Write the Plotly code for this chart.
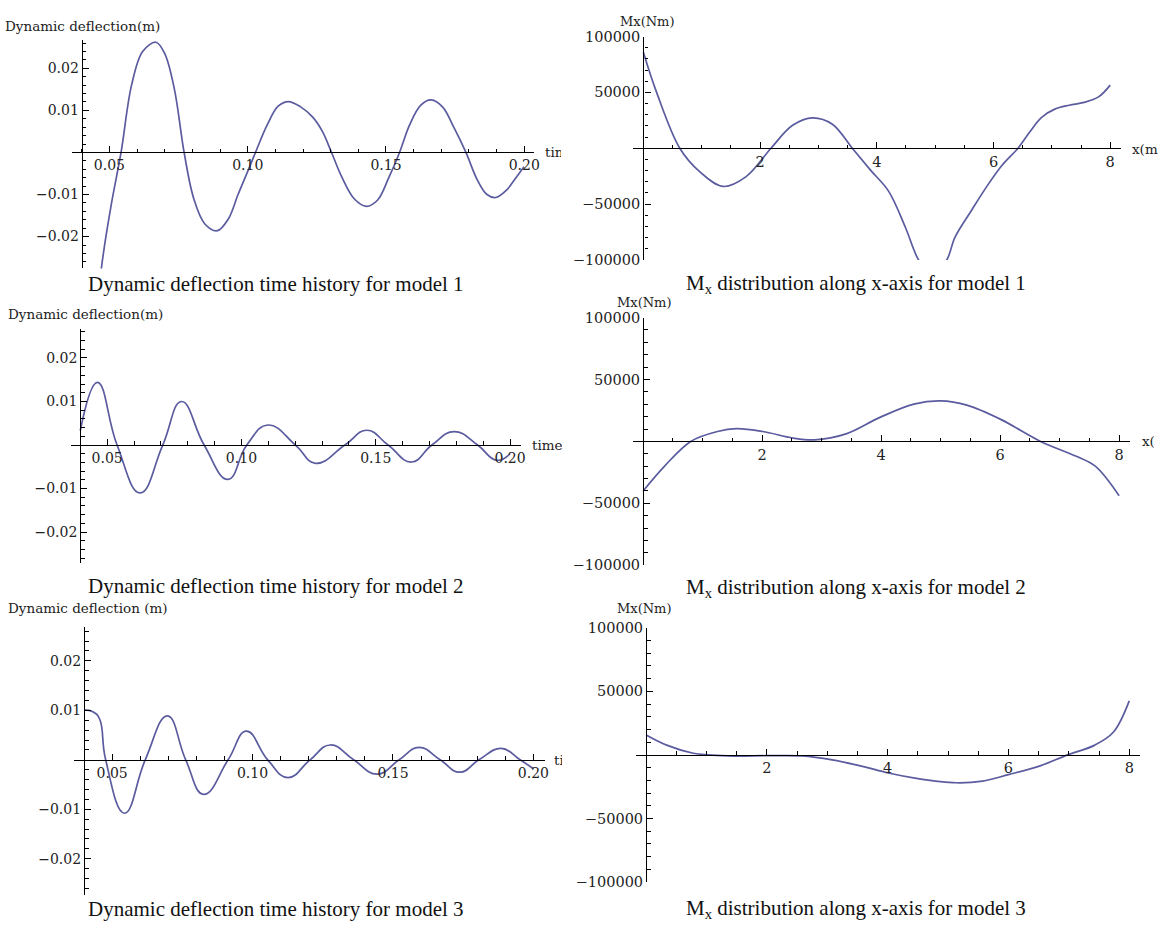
import plotly.graph_objects as go

W, H = 1164, 929

# ---------------- data ----------------
# Dynamic deflection time histories (time in s, deflection in m)
time_model1 = [0.0440, 0.0471, 0.0505, 0.0542, 0.0580, 0.0620, 0.0668, 0.0700, 0.0735, 0.0770,
               0.0805, 0.0845, 0.0890, 0.0930, 0.0965, 0.1000, 0.1028, 0.1070, 0.1110, 0.1147,
               0.1190, 0.1235, 0.1270, 0.1303, 0.1340, 0.1385, 0.1429, 0.1470, 0.1510, 0.1549,
               0.1585, 0.1625, 0.1663, 0.1705, 0.1745, 0.1789, 0.1830, 0.1865, 0.1897, 0.1935,
               0.1970, 0.1999]
defl_model1 = [-0.0500, -0.0275, -0.0130, 0.0000, 0.0160, 0.0240, 0.0262, 0.0235, 0.0150, 0.0000,
               -0.0110, -0.0170, -0.0186, -0.0158, -0.0100, -0.0045, 0.0000, 0.0065, 0.0110, 0.0121,
               0.0109, 0.0084, 0.0050, 0.0000, -0.0058, -0.0110, -0.0128, -0.0113, -0.0060, 0.0000,
               0.0065, 0.0112, 0.0125, 0.0108, 0.0060, 0.0000, -0.0065, -0.0100, -0.0107, -0.0090,
               -0.0060, -0.0034]

time_model2 = [0.0400, 0.0464, 0.0537, 0.0623, 0.0707, 0.0777, 0.0861, 0.0950, 0.1020, 0.1099,
               0.1201, 0.1276, 0.1385, 0.1467, 0.1546, 0.1633, 0.1709, 0.1792, 0.1879, 0.1950,
               0.2000]
defl_model2 = [0.0033, 0.0144, 0.0000, -0.0110, 0.0000, 0.0100, 0.0000, -0.0079, 0.0000, 0.0046,
               0.0000, -0.0042, 0.0000, 0.0034, 0.0000, -0.0039, 0.0000, 0.0031, 0.0000, -0.0035,
               -0.0020]

time_model3 = [0.0400, 0.0432, 0.0455, 0.0477, 0.0544, 0.0618, 0.0697, 0.0762, 0.0826, 0.0913,
               0.0978, 0.1054, 0.1126, 0.1205, 0.1277, 0.1360, 0.1443, 0.1522, 0.1593, 0.1668,
               0.1738, 0.1806, 0.1886, 0.1953, 0.2000]
defl_model3 = [0.0101, 0.0097, 0.0083, 0.0000, -0.0108, 0.0000, 0.0089, 0.0000, -0.0070, 0.0000,
               0.0058, 0.0000, -0.0036, 0.0000, 0.0030, 0.0000, -0.0029, 0.0000, 0.0025, 0.0000,
               -0.0025, 0.0000, 0.0023, 0.0000, -0.0018]

# Mx distributions along x (x in m, Mx in Nm)
x_model1 = [0.0, 0.227, 0.624, 0.965, 1.364, 1.761, 2.187, 2.557, 2.898, 3.239, 3.58, 3.90,
            4.204, 4.489, 4.716, 4.95, 5.199, 5.341, 5.63, 5.90, 6.15, 6.42, 6.62, 6.82, 7.05,
            7.30, 7.55, 7.80, 8.0]
mx_model1 = [86000, 50000, 0, -21000, -34200, -25400, 0, 20500, 27200, 21500, 0, -20000,
             -38600, -70700, -100000, -115000, -100000, -79500, -55000, -33000, -15000, 0, 14500,
             27500, 35000, 38500, 41000, 46000, 56500]

x_model2 = [0.0, 0.36, 0.80, 1.25, 1.57, 2.01, 2.52, 2.88, 3.41, 3.98, 4.55, 5.0, 5.44, 6.01,
            6.68, 7.28, 7.60, 8.0]
mx_model2 = [-40000, -19900, 0, 8000, 10300, 8000, 2700, 1300, 6100, 19400, 30100, 32700, 29300,
             17800, 0, -12000, -20000, -43900]

x_model3 = [0.0, 0.34, 0.78, 1.03, 1.46, 2.02, 2.58, 3.08, 3.58, 4.01, 4.50, 5.13, 5.57, 6.0,
            6.50, 6.98, 7.43, 7.74, 8.0]
mx_model3 = [15700, 7700, 1300, 0, -1000, -600, -800, -3900, -9000, -14200, -18600, -21900,
             -20600, -15500, -9000, 0, 7700, 18000, 42500]

# tick labels
defl_ticks = [-0.02, -0.01, 0.01, 0.02]
defl_tick_text = ["\u22120.02", "\u22120.01", "0.01", "0.02"]
time_ticks = [0.05, 0.10, 0.15, 0.20]
time_tick_text = ["0.05", "0.10", "0.15", "0.20"]
mx_ticks = [-100000, -50000, 50000, 100000]
mx_tick_text = ["\u2212100000", "\u221250000", "50000", "100000"]
pos_ticks = [2, 4, 6, 8]
pos_tick_text = ["2", "4", "6", "8"]

captions_left = ["Dynamic deflection time history for model 1",
                 "Dynamic deflection time history for model 2",
                 "Dynamic deflection time history for model 3"]
captions_right = ["M<sub>x</sub> distribution along x-axis for model 1",
                  "M<sub>x</sub> distribution along x-axis for model 2",
                  "M<sub>x</sub> distribution along x-axis for model 3"]
ylabels_left = ["Dynamic deflection(m)", "Dynamic deflection(m)", "Dynamic deflection (m)"]

# ---------------- layout geometry (pixels) ----------------
LINE_COLOR = "#5b5b9f"
TXT = "#222222"
TICK_FONT = "DejaVu Serif"

panels = [
    dict(ref=0.05, ref_px=110.0, sx=2780.0, zero_py=147.0, sy=4280.0, dom_x=(72, 537), dom_y=(33, 265), origin=0.04, kind="t", smooth=1.0),
    dict(ref=0.0, ref_px=646.7, sx=58.66, zero_py=142.7, sy=0.001137, dom_x=(636.7, 1126.7), dom_y=(29, 256.4), origin=0.0, kind="x", smooth=1.0),
    dict(ref=0.05, ref_px=107.7, sx=2700.0, zero_py=444.7, sy=4430.0, dom_x=(71, 523.3), dom_y=(326.7, 565), origin=0.04, kind="t", smooth=1.3),
    dict(ref=0.0, ref_px=646.5, sx=59.8, zero_py=441.0, sy=0.00126, dom_x=(636.5, 1136), dom_y=(315, 567), origin=0.0, kind="x", smooth=1.0),
    dict(ref=0.05, ref_px=112.7, sx=2823.0, zero_py=765.0, sy=5035.0, dom_x=(74, 548), dom_y=(630, 903), origin=0.04, kind="t", smooth=1.3),
    dict(ref=0.0, ref_px=649.5, sx=60.7, zero_py=760.0, sy=0.001293, dom_x=(639.5, 1146), dom_y=(630.7, 889.3), origin=0.0, kind="x", smooth=1.0),
]
series = [
    (time_model1, defl_model1), (x_model1, mx_model1),
    (time_model2, defl_model2), (x_model2, mx_model2),
    (time_model3, defl_model3), (x_model3, mx_model3),
]

t_minor = [k / 100 for k in range(4, 21) if k % 5 != 0]
d_minor = [k * 0.002 for k in range(-13, 14) if k % 5 != 0]
x_minor = [k * 0.5 for k in range(1, 17) if k % 4 != 0]
m_minor = [k * 10000 for k in range(-10, 11) if k % 5 != 0]

fig = go.Figure()
layout_axes = {}
for i, (p, (xs, ys)) in enumerate(zip(panels, series), start=1):
    xn = "x" if i == 1 else f"x{i}"
    yn = "y" if i == 1 else f"y{i}"
    fig.add_trace(go.Scatter(x=xs, y=ys, mode="lines", xaxis=xn, yaxis=yn,
                             line=dict(color=LINE_COLOR, width=1.7, shape="spline", smoothing=p["smooth"]),
                             hoverinfo="skip"))
    xr = [p["ref"] + (p["dom_x"][0] - p["ref_px"]) / p["sx"], p["ref"] + (p["dom_x"][1] - p["ref_px"]) / p["sx"]]
    yr = [(p["zero_py"] - p["dom_y"][1]) / p["sy"], (p["zero_py"] - p["dom_y"][0]) / p["sy"]]
    yaxis_px = p["ref_px"] + (p["origin"] - p["ref"]) * p["sx"]
    if p["kind"] == "t":
        xt, xtt, xm = time_ticks, time_tick_text, t_minor
        yt, ytt, ym = defl_ticks, defl_tick_text, d_minor
        fsize = 14
    else:
        xt, xtt, xm = pos_ticks, pos_tick_text, x_minor
        yt, ytt, ym = mx_ticks, mx_tick_text, m_minor
        fsize = 14.5
    common = dict(showgrid=False, zeroline=False, showline=True, linecolor="black", linewidth=1.3,
                  ticks="inside", ticklen=6, tickwidth=1.1, tickcolor="black",
                  tickfont=dict(family=TICK_FONT, size=fsize, color=TXT), fixedrange=True)
    layout_axes["xaxis" if i == 1 else f"xaxis{i}"] = dict(
        common, domain=[p["dom_x"][0] / W, p["dom_x"][1] / W], range=xr, anchor="free",
        position=1 - p["zero_py"] / H, tickmode="array", tickvals=xt, ticktext=xtt,
        minor=dict(tickmode="array", tickvals=xm, ticks="inside", ticklen=3.5, tickwidth=1, tickcolor="black", showgrid=False))
    layout_axes["yaxis" if i == 1 else f"yaxis{i}"] = dict(
        common, domain=[1 - p["dom_y"][1] / H, 1 - p["dom_y"][0] / H], range=yr, anchor="free",
        position=yaxis_px / W, tickmode="array", tickvals=yt, ticktext=ytt,
        minor=dict(tickmode="array", tickvals=ym, ticks="inside", ticklen=3.5, tickwidth=1, tickcolor="black", showgrid=False))

fig.update_layout(width=W, height=H, margin=dict(l=0, r=0, t=0, b=0),
                  paper_bgcolor="white", plot_bgcolor="white", showlegend=False, **layout_axes)

ann = []
def add_text(text, px, py, xanchor="left", size=13.5, family=TICK_FONT, width=None, color=TXT):
    d = dict(text=text, x=px / W, y=1 - py / H, xref="paper", yref="paper", xanchor=xanchor,
             yanchor="middle", showarrow=False, font=dict(family=family, size=size, color=color))
    if width is not None:
        d["width"] = width
        d["align"] = "left"
    ann.append(d)

# axis labels (left column)
add_text(ylabels_left[0], 3, 18)
add_text(ylabels_left[1], 6, 311)
add_text(ylabels_left[2], 6, 611)
add_text("time", 546, 147, width=16)
add_text("time", 533, 445, width=30)
add_text("time", 555, 765, width=8)
# axis labels (right column)
add_text("Mx(Nm)", 651, 14, xanchor="center", size=13)
add_text("Mx(Nm)", 648, 300, xanchor="center", size=13)
add_text("Mx(Nm)", 647.5, 611, xanchor="center", size=13)
add_text("x(m)", 1136, 143, width=26)
add_text("x(m)", 1146, 441, width=12)
# captions
cap_y = [281, 588, 917]
for k in range(3):
    add_text(captions_left[k], 277.5, cap_y[k], xanchor="center", size=21,
             family="Liberation Serif", color="#111111")
    add_text(captions_right[k], 860, cap_y[k] + (2 if k == 1 else 0), xanchor="center", size=21,
             family="Liberation Serif", color="#111111")
fig.update_layout(annotations=ann)

fig.write_html("out.html", config={"displayModeBar": False},
               post_script="document.body.style.margin='0';")
